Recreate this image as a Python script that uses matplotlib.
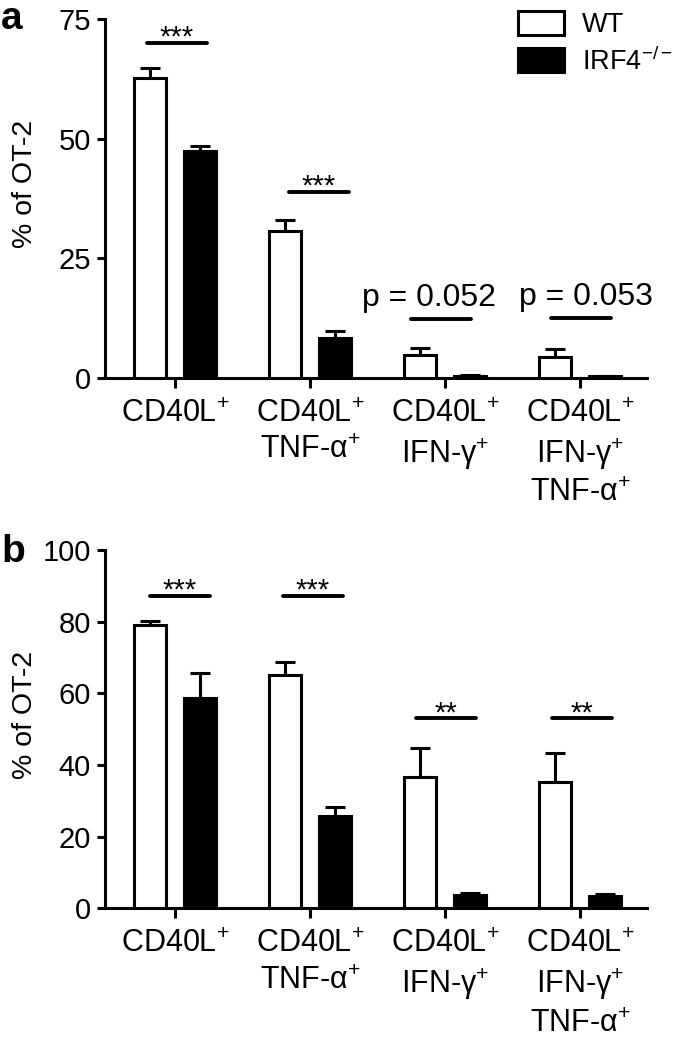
import matplotlib
matplotlib.use("Agg")
import matplotlib.pyplot as plt
import numpy as np
from matplotlib.patches import Patch

plt.rcParams['font.family'] = ['Liberation Sans', 'DejaVu Sans']
plt.rcParams['mathtext.fontset'] = 'custom'
plt.rcParams['mathtext.rm'] = 'Liberation Sans'
plt.rcParams['mathtext.it'] = 'Liberation Sans:italic'
plt.rcParams['mathtext.bf'] = 'Liberation Sans:bold'

# ---------------- data ----------------
categories = ["CD40L$^{+}$",
              "CD40L$^{+}$\nTNF-α$^{+}$",
              "CD40L$^{+}$\nIFN-γ$^{+}$",
              "CD40L$^{+}$\nIFN-γ$^{+}$\nTNF-α$^{+}$"]
series_names = ["WT", "IRF4$^{-/-}$"]

a_wt = [62.6, 30.7, 4.7, 4.3]
a_wt_err = [2.1, 2.3, 1.6, 1.7]
a_ko = [47.5, 8.4, 0.4, 0.3]
a_ko_err = [1.0, 1.4, 0.15, 0.1]
a_sig_y = [70.0, 38.9, 12.3, 12.5]
a_sig_labels = ["***", "***", "p = 0.052", "p = 0.053"]
a_yticks = [0, 25, 50, 75]

b_wt = [79.1, 65.1, 36.6, 35.2]
b_wt_err = [1.2, 3.6, 8.1, 8.1]
b_ko = [58.8, 25.8, 3.6, 3.5]
b_ko_err = [7.0, 2.6, 0.6, 0.6]
b_sig_y = [87.2, 87.2, 53.0, 53.0]
b_sig_labels = ["***", "***", "**", "**"]
b_yticks = [0, 20, 40, 60, 80, 100]

ylabel = "% of OT-2"

# ---------------- layout ----------------
W, H = 675, 1037
fig = plt.figure(figsize=(W / 100, H / 100), dpi=100)
LW = 2.2


def px_axes(left, top, right, bottom):
    return [left / W, 1 - bottom / H, (right - left) / W, (bottom - top) / H]


def draw_panel(ax, wt, wt_err, ko, ko_err, yticks, sig_y, sig_labels, sig_dx, text_dx):
    x = np.arange(len(categories))
    off, width = 0.185, 0.24
    ax.bar(x - off, wt, width, color='white', edgecolor='black', linewidth=LW, zorder=3)
    ax.bar(x + off, ko, width, color='black', edgecolor='black', linewidth=LW, zorder=3)
    ax.errorbar(x - off, wt, yerr=[np.zeros(len(wt)), wt_err], fmt='none', ecolor='black',
                elinewidth=LW, capsize=7.2, capthick=LW, zorder=2)
    ax.errorbar(x + off, ko, yerr=[np.zeros(len(ko)), ko_err], fmt='none', ecolor='black',
                elinewidth=LW, capsize=7.2, capthick=LW, zorder=2)
    for i, (yy, lab) in enumerate(zip(sig_y, sig_labels)):
        cx = x[i] + sig_dx[i]
        ax.plot([cx - 0.222, cx + 0.222], [yy, yy], color='black', lw=2.8,
                solid_capstyle='round', zorder=4, clip_on=False)
        if lab.startswith('p'):
            ax.annotate(lab, (x[i] + text_dx[i], yy), xytext=(0, 12.6), textcoords='offset pixels',
                        ha='center', va='baseline', fontsize=23)
        else:
            ax.annotate(lab, (cx, yy), xytext=(0, -3), textcoords='offset pixels',
                        ha='center', va='baseline', fontsize=21)
    ax.set_xlim(-0.519, 3.496)
    ax.set_ylim(yticks[0], yticks[-1])
    ax.set_yticks(yticks)
    ax.set_xticks(x)
    ax.set_xticklabels(categories, fontsize=22, linespacing=1.28)
    ax.tick_params(axis='y', labelsize=21, length=6, width=LW, pad=4, direction='out')
    ax.tick_params(axis='x', length=7.2, width=LW, pad=8, direction='out')
    for s in ['top', 'right']:
        ax.spines[s].set_visible(False)
    for s in ['left', 'bottom']:
        ax.spines[s].set_linewidth(LW)
    ax.set_ylabel(ylabel, fontsize=20.5)
    ax.yaxis.set_label_coords(-0.124, 0.54)


axA = fig.add_axes(px_axes(105, 19, 647, 377.7))
axB = fig.add_axes(px_axes(105, 550, 647, 908.3))

draw_panel(axA, a_wt, a_wt_err, a_ko, a_ko_err, a_yticks, a_sig_y, a_sig_labels,
           [0.013, 0.064, -0.03, 0.005], [0, 0, -0.12, 0.045])
draw_panel(axB, b_wt, b_wt_err, b_ko, b_ko_err, b_yticks, b_sig_y, b_sig_labels,
           [0.035, 0.02, 0.007, 0.015], [0, 0, 0, 0])

# legend
handles = [Patch(facecolor='white', edgecolor='black', linewidth=LW, label=series_names[0]),
           Patch(facecolor='black', edgecolor='black', linewidth=LW, label=series_names[1])]
fig.legend(handles=handles, loc='upper left', bbox_to_anchor=(518 / W, 1 - 11 / H),
           frameon=False, fontsize=19.5, handlelength=1.68, handleheight=1.0,
           handletextpad=0.68, labelspacing=0.32, borderpad=0, borderaxespad=0)

# panel letters
fig.text(1 / W, 1 - 29 / H, 'a', fontsize=28, fontweight='bold', va='baseline', ha='left')
fig.text(1 / W, 1 - 562 / H, 'b', fontsize=28, fontweight='bold', va='baseline', ha='left')

fig.savefig('out.png', dpi=100)
